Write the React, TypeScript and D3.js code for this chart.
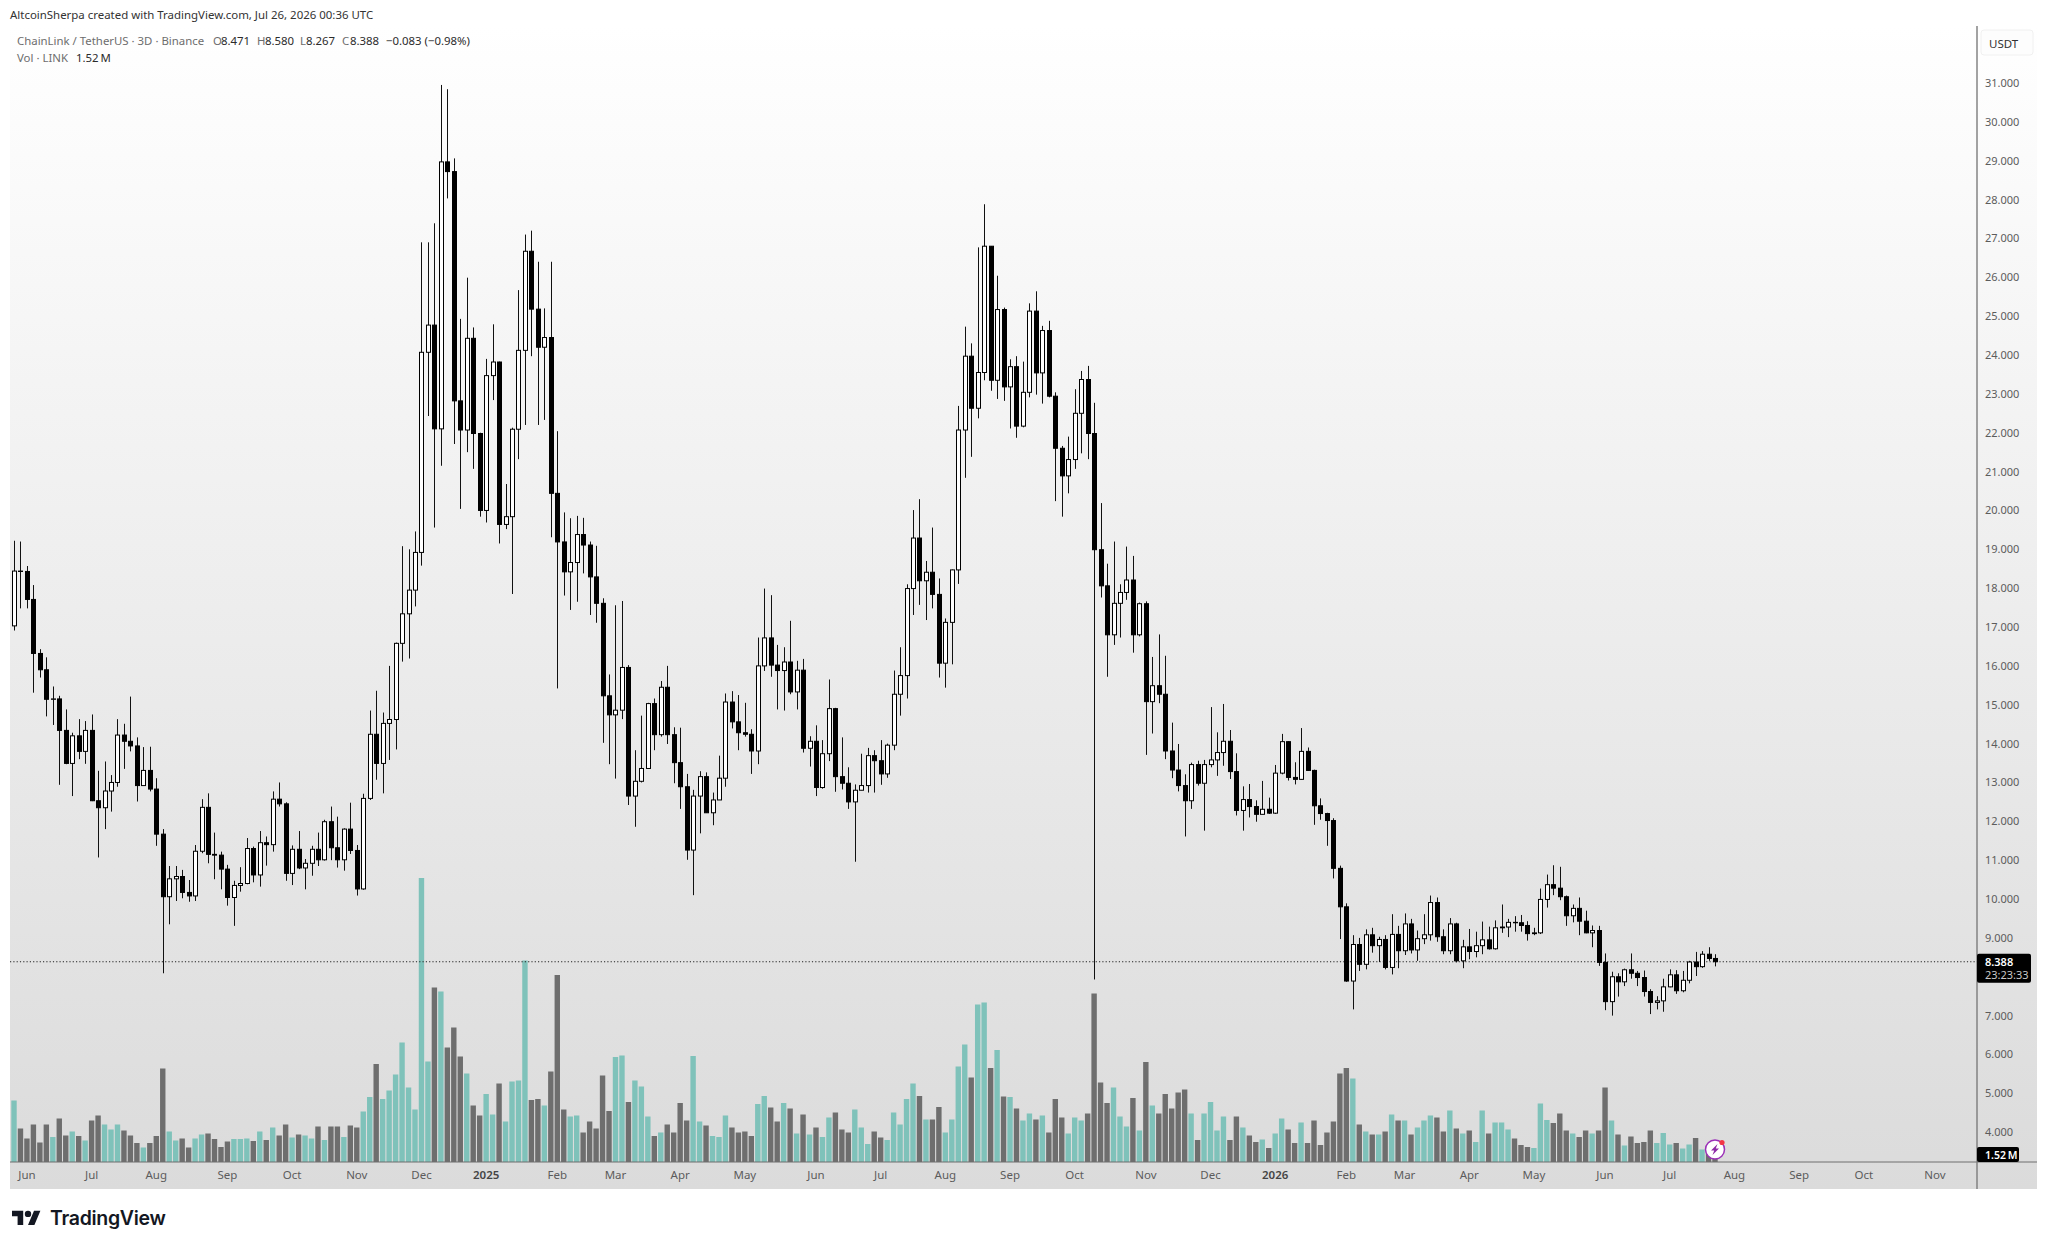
import { useEffect, useRef } from "react";
import * as d3 from "d3";

const width = 2047;
const height = 1248;

const firstOpen = 17.03;
const closes = [
  18.44, 18.43, 17.71, 16.32, 15.9, 15.14, 15.15, 14.34, 13.49, 14.2, 13.8, 14.34, 12.53, 12.35, 12.78, 13.0,
  14.22, 14.06, 13.94, 12.92, 13.31, 12.83, 11.67, 10.06, 10.52, 10.58, 10.17, 10.08, 11.23, 12.36, 11.15, 11.13,
  10.77, 10.04, 10.35, 10.4, 11.3, 10.62, 11.45, 11.4, 12.57, 12.45, 10.66, 11.28, 10.8, 10.92, 11.28, 11.01,
  11.99, 11.32, 11.01, 11.8, 11.25, 10.26, 12.59, 14.24, 13.49, 14.52, 14.62, 16.58, 17.34, 17.95, 18.92, 24.07,
  24.77, 22.1, 28.97, 28.72, 22.82, 22.07, 24.43, 21.98, 20.0, 23.47, 23.82, 19.64, 19.84, 22.09, 24.12, 26.67,
  25.18, 24.2, 24.45, 20.44, 19.19, 18.42, 18.66, 19.38, 19.11, 18.29, 17.61, 15.23, 14.74, 14.86, 15.96, 12.65,
  13.03, 13.36, 15.03, 14.23, 15.45, 14.23, 13.51, 12.89, 11.26, 12.65, 13.15, 12.22, 12.55, 13.11, 15.07, 14.56,
  14.28, 14.24, 13.81, 16.0, 16.72, 16.02, 15.88, 16.1, 15.33, 15.89, 13.88, 14.06, 12.87, 13.74, 14.9, 13.15,
  12.98, 12.5, 12.8, 12.92, 13.69, 13.56, 13.22, 13.96, 15.27, 15.75, 17.99, 19.29, 18.19, 18.41, 17.84, 16.07,
  17.12, 18.47, 22.07, 23.97, 22.63, 23.55, 26.8, 23.35, 25.17, 23.18, 23.7, 22.17, 23.04, 25.13, 23.54, 24.63,
  22.94, 21.6, 20.89, 21.31, 22.5, 23.37, 21.98, 18.99, 18.06, 16.8, 17.61, 17.89, 18.21, 16.8, 17.6, 15.08,
  15.49, 15.27, 13.81, 13.32, 12.92, 12.53, 13.46, 12.98, 13.46, 13.58, 13.77, 14.06, 13.28, 12.28, 12.56, 12.38,
  12.18, 12.31, 12.21, 13.24, 14.05, 13.13, 13.08, 13.8, 13.31, 12.4, 12.2, 12.02, 10.79, 9.8, 7.89, 8.83,
  8.32, 9.08, 8.8, 8.96, 8.24, 9.09, 8.67, 9.36, 8.69, 8.98, 9.08, 9.91, 9.03, 8.67, 9.36, 8.41,
  8.77, 8.65, 8.8, 8.95, 8.72, 9.26, 9.28, 9.4, 9.39, 9.32, 9.11, 9.13, 9.99, 10.37, 10.28, 10.06,
  9.57, 9.76, 9.43, 9.13, 9.19, 8.37, 7.36, 8.0, 7.87, 8.18, 8.09, 7.98, 7.62, 7.34, 7.38, 7.74,
  8.05, 7.64, 7.91, 8.38, 8.26, 8.58, 8.471, 8.388,
];
const highs = [
  19.22, 19.2, 18.57, 18.08, 16.43, 16.22, 15.47, 15.23, 14.88, 14.28, 14.63, 14.58, 14.75, 13.3, 13.54, 13.19,
  14.63, 14.51, 15.21, 14.16, 13.91, 13.92, 13.11, 11.8, 10.85, 10.85, 10.75, 10.49, 11.39, 12.57, 12.72, 11.71,
  11.22, 10.88, 10.47, 10.82, 11.57, 11.35, 11.75, 11.61, 12.77, 13.0, 12.49, 11.38, 11.75, 11.03, 11.37, 11.71,
  12.04, 12.38, 12.12, 11.82, 12.48, 11.39, 12.71, 14.85, 15.36, 14.8, 16.0, 16.6, 19.08, 19.0, 19.46, 26.9,
  26.9, 27.39, 30.95, 30.84, 29.06, 24.93, 25.99, 24.71, 22.0, 23.9, 24.79, 23.83, 20.68, 22.13, 25.67, 27.1,
  27.2, 26.4, 25.2, 26.4, 22.04, 19.95, 19.8, 19.86, 19.81, 19.2, 19.09, 17.74, 15.78, 17.56, 17.67, 16.02,
  13.83, 14.72, 15.05, 15.16, 15.61, 16.0, 14.42, 14.41, 13.22, 12.81, 13.29, 13.26, 12.74, 13.69, 15.29, 15.35,
  15.25, 15.05, 14.37, 16.73, 17.99, 17.82, 16.54, 16.48, 17.16, 16.13, 16.18, 14.19, 14.47, 14.09, 15.65, 14.92,
  14.16, 13.39, 12.95, 13.74, 13.89, 13.83, 14.09, 14.0, 15.88, 16.48, 18.1, 20.01, 20.29, 18.7, 19.56, 18.25,
  17.22, 18.48, 22.69, 24.73, 24.3, 26.77, 27.88, 26.8, 26.04, 25.22, 23.89, 23.97, 23.83, 25.33, 25.64, 24.75,
  24.88, 23.04, 21.66, 21.9, 23.12, 23.59, 23.72, 22.77, 20.19, 18.63, 19.2, 18.1, 19.07, 18.83, 17.63, 17.66,
  16.23, 16.81, 16.26, 14.54, 13.99, 13.21, 13.51, 13.56, 13.58, 14.94, 14.29, 15.02, 14.35, 13.75, 12.9, 12.96,
  12.54, 13.04, 12.61, 13.45, 14.25, 14.06, 13.52, 14.4, 13.9, 13.33, 12.59, 12.22, 12.08, 10.86, 9.89, 9.07,
  9.0, 9.22, 9.26, 9.03, 9.07, 9.61, 9.31, 9.63, 9.49, 9.19, 9.61, 10.09, 10.04, 9.22, 9.51, 9.39,
  8.95, 9.23, 9.16, 9.42, 9.29, 9.45, 9.86, 9.49, 9.56, 9.59, 9.43, 9.26, 10.27, 10.63, 10.87, 10.83,
  10.09, 9.86, 10.04, 9.7, 9.32, 9.31, 8.6, 8.13, 8.09, 8.21, 8.6, 8.15, 8.16, 7.68, 7.5, 7.95,
  8.19, 8.17, 8.15, 8.41, 8.64, 8.66, 8.76, 8.58,
];
const lows = [
  16.91, 17.48, 17.48, 15.31, 15.7, 14.7, 14.48, 12.94, 13.47, 12.65, 13.6, 13.48, 12.52, 11.07, 11.8, 12.25,
  12.89, 13.35, 13.8, 12.51, 12.92, 12.77, 11.37, 8.09, 9.35, 9.95, 10.02, 9.93, 9.95, 11.18, 10.92, 10.51,
  10.25, 9.83, 9.31, 10.19, 10.38, 10.43, 10.32, 10.86, 11.22, 12.38, 10.47, 10.36, 10.77, 10.25, 10.6, 10.85,
  10.99, 11.0, 10.81, 10.73, 11.16, 10.09, 10.24, 12.55, 13.07, 12.72, 13.58, 13.85, 16.11, 16.19, 17.53, 18.58,
  22.43, 19.56, 21.15, 28.03, 21.71, 20.04, 21.5, 21.07, 19.84, 19.69, 22.84, 19.15, 19.52, 17.85, 21.32, 22.2,
  23.97, 22.2, 22.33, 19.31, 15.42, 17.81, 17.44, 17.65, 18.38, 17.31, 17.11, 14.02, 13.47, 13.1, 14.63, 12.42,
  11.86, 13.0, 13.35, 13.83, 14.18, 13.99, 12.98, 12.32, 11.01, 10.1, 11.69, 12.22, 11.9, 12.55, 12.89, 14.39,
  13.83, 14.18, 13.22, 13.47, 15.87, 15.72, 14.88, 14.85, 15.27, 14.88, 13.77, 13.41, 12.65, 12.84, 13.55, 12.76,
  12.82, 12.32, 10.96, 12.8, 12.74, 12.74, 12.94, 13.12, 13.83, 14.72, 15.16, 17.31, 17.57, 17.18, 17.48, 15.7,
  15.44, 16.04, 18.11, 20.84, 21.38, 22.37, 23.35, 23.08, 22.87, 22.82, 22.11, 21.87, 22.14, 22.91, 22.98, 22.75,
  22.91, 20.24, 19.84, 20.44, 21.07, 21.47, 21.32, 7.93, 17.76, 15.72, 16.54, 16.73, 17.7, 16.34, 16.76, 13.71,
  14.26, 15.04, 13.6, 13.11, 12.77, 11.61, 12.32, 12.92, 11.76, 13.39, 13.17, 13.43, 13.09, 12.15, 11.76, 12.1,
  11.99, 12.18, 12.19, 12.19, 13.21, 13.05, 12.95, 13.07, 13.3, 11.91, 12.04, 11.37, 10.53, 8.97, 7.87, 7.16,
  8.15, 8.19, 8.62, 8.38, 8.19, 8.06, 8.22, 8.56, 8.6, 8.41, 8.84, 8.93, 8.9, 8.58, 8.58, 8.37,
  8.22, 8.45, 8.5, 8.58, 8.7, 8.7, 9.13, 9.02, 9.16, 9.16, 8.93, 9.07, 9.1, 9.78, 10.1, 9.97,
  9.31, 9.4, 9.07, 9.12, 8.76, 8.28, 7.14, 7.0, 7.49, 7.76, 7.95, 7.76, 7.49, 7.04, 7.16, 7.1,
  7.73, 7.56, 7.6, 7.83, 8.02, 8.23, 8.41, 8.267,
];
// volume in millions of LINK
const volumes = [
  12.3, 6.7, 4.7, 7.5, 3.9, 7.5, 5.0, 8.7, 5.3, 6.1, 5.2, 4.3, 8.3, 9.3, 7.5, 6.5,
  7.5, 6.3, 5.3, 3.8, 2.9, 3.8, 5.2, 18.7, 6.1, 4.3, 4.7, 2.9, 4.7, 5.5, 5.7, 4.6,
  3.0, 4.1, 4.6, 4.6, 4.7, 4.2, 6.1, 4.4, 6.9, 5.3, 7.5, 4.9, 5.5, 5.3, 4.7, 7.1,
  4.4, 7.1, 7.1, 5.0, 7.3, 6.9, 10.1, 13.0, 19.6, 12.6, 14.3, 17.5, 23.9, 14.9, 10.5, 56.8,
  20.1, 34.9, 34.1, 22.9, 26.9, 21.1, 17.7, 11.3, 9.3, 13.6, 9.5, 15.7, 8.1, 16.1, 16.3, 40.3,
  12.4, 12.6, 11.3, 18.1, 37.4, 10.5, 9.1, 9.3, 5.9, 8.1, 6.7, 17.3, 10.2, 21.0, 21.3, 12.0,
  16.3, 15.1, 9.1, 5.2, 5.9, 7.5, 5.9, 11.8, 8.3, 21.2, 8.1, 7.3, 5.2, 5.0, 9.3, 6.9,
  5.9, 6.1, 5.2, 11.6, 13.2, 10.9, 8.1, 11.8, 10.7, 5.7, 9.5, 5.5, 6.9, 5.0, 8.9, 9.9,
  6.5, 5.9, 10.5, 6.9, 3.6, 6.1, 4.9, 4.4, 9.9, 7.5, 12.6, 15.7, 13.2, 8.5, 8.5, 11.0,
  5.9, 8.5, 19.1, 23.5, 16.9, 31.5, 31.9, 18.8, 22.4, 13.1, 13.0, 10.7, 8.3, 9.7, 8.5, 9.3,
  5.9, 12.6, 8.9, 5.7, 8.9, 8.3, 9.7, 33.7, 15.9, 11.8, 14.9, 9.1, 7.1, 12.8, 6.3, 20.0,
  11.3, 9.7, 13.6, 10.7, 13.9, 14.5, 9.7, 4.4, 9.7, 12.0, 6.3, 9.1, 4.4, 9.1, 6.9, 5.3,
  4.0, 4.5, 2.8, 5.7, 8.7, 6.5, 3.8, 7.9, 3.8, 8.3, 3.4, 5.9, 8.1, 17.7, 18.8, 16.7,
  7.5, 6.1, 5.5, 5.5, 6.1, 9.5, 8.3, 8.3, 5.5, 6.9, 8.3, 9.3, 8.9, 6.1, 10.3, 6.7,
  5.7, 6.3, 4.0, 10.3, 5.7, 7.9, 7.9, 6.5, 4.7, 3.4, 3.0, 2.8, 11.7, 8.4, 7.8, 9.7,
  6.3, 5.7, 5.0, 6.3, 5.7, 6.3, 14.9, 8.3, 5.5, 3.3, 5.1, 3.8, 4.0, 6.3, 3.8, 5.8,
  3.5, 3.8, 2.7, 3.5, 4.8, 2.5, 1.7, 1.52,
];
const opens = [firstOpen, ...closes.slice(0, -1)];

// 8.000 sits under the last price tag, so the axis does not print it
const priceTicks = [4, 5, 6, 7, 9, 10, 11, 12, 13, 14, 15, 16, 17, 18, 19, 20, 21, 22, 23, 24, 25, 26, 27, 28, 29, 30, 31];
const timeTickBars = [2, 12, 22, 33, 43, 53, 63, 73, 84, 93, 103, 113, 124, 134, 144, 154, 164, 175, 185, 195, 206, 215, 225, 235, 246, 256, 266, 276, 286, 297];
const timeTickLabels = ["Jun", "Jul", "Aug", "Sep", "Oct", "Nov", "Dec", "2025", "Feb", "Mar", "Apr", "May", "Jun", "Jul", "Aug", "Sep", "Oct", "Nov", "Dec", "2026", "Feb", "Mar", "Apr", "May", "Jun", "Jul", "Aug", "Sep", "Oct", "Nov"];
const lastPrice = 8.388;
const lastVolume = 1.52;

const uiFont = "'Noto Sans', sans-serif";
const axisColor = "#6f6f6f";
const tealBar = "#7fc2ba";
const grayBar = "#6e6e6e";

export default function App() {
  const ref = useRef<SVGSVGElement>(null);

  useEffect(() => {
    if (!ref.current) return;
    const svg = d3.select(ref.current);
    svg.selectAll("*").remove();

    const left = 10, right = 2037, top = 26, bottom = 1189, axisX = 1977, timeY = 1162;

    const x = d3.scaleLinear().domain([0, 263]).range([14, 1715]);
    const y = d3.scaleLinear().domain([4, 31]).range([1132.2, 83]);
    const yVol = d3.scaleLinear().domain([0, 56.8]).range([timeY, timeY - 284]);

    const grad = svg.append("defs").append("linearGradient")
      .attr("id", "bg").attr("x1", "0%").attr("x2", "0%").attr("y1", "0%").attr("y2", "100%");
    grad.append("stop").attr("offset", "0%").attr("stop-color", "#ffffff");
    grad.append("stop").attr("offset", "100%").attr("stop-color", "#dbdbdb");

    svg.append("rect").attr("width", width).attr("height", height).attr("fill", "#fff");
    svg.append("rect")
      .attr("x", left).attr("y", top).attr("width", right - left).attr("height", bottom - top)
      .attr("fill", "url(#bg)");

    // volume
    svg.append("g").selectAll("rect")
      .data(volumes)
      .enter().append("rect")
      .attr("x", (_, i) => x(i) - 2.7)
      .attr("width", 5.4)
      .attr("y", (d) => yVol(d))
      .attr("height", (d) => timeY - yVol(d))
      .attr("fill", (_, i) => (closes[i] >= opens[i] ? tealBar : grayBar));

    // last price line
    svg.append("line")
      .attr("x1", left).attr("x2", axisX)
      .attr("y1", y(lastPrice)).attr("y2", y(lastPrice))
      .attr("stroke", "#222").attr("stroke-width", 1.1).attr("stroke-dasharray", "1.2 2.1");

    // candles
    const candles = svg.append("g").selectAll("g").data(closes).enter().append("g");
    const cx = (i: number) => Math.round(x(i)) + 0.5;
    candles.append("line")
      .attr("x1", (_, i) => cx(i)).attr("x2", (_, i) => cx(i))
      .attr("y1", (_, i) => y(highs[i])).attr("y2", (_, i) => y(lows[i]))
      .attr("stroke", "#111").attr("stroke-width", 1);
    candles.append("rect")
      .attr("x", (_, i) => cx(i) - 2)
      .attr("width", 4)
      .attr("y", (d, i) => y(Math.max(d, opens[i])))
      .attr("height", (d, i) => Math.max(Math.abs(y(d) - y(opens[i])), 0.4))
      .attr("fill", (d, i) => (d >= opens[i] ? "#fff" : "#000"))
      .attr("stroke", "#000").attr("stroke-width", 1);

    // axis lines
    svg.append("line").attr("x1", left).attr("x2", right).attr("y1", timeY).attr("y2", timeY)
      .attr("stroke", axisColor).attr("stroke-width", 1.2);
    svg.append("line").attr("x1", axisX).attr("x2", axisX).attr("y1", top).attr("y2", bottom)
      .attr("stroke", "#7c7c7c").attr("stroke-width", 1.4);

    // price axis
    svg.append("g").selectAll("text").data(priceTicks).enter().append("text")
      .attr("x", 1985).attr("y", (d) => y(d) + 4)
      .attr("font-family", uiFont).attr("font-size", 11).attr("fill", "#5c5c5c")
      .text((d) => d.toFixed(3));

    // time axis
    svg.append("g").selectAll("text").data(timeTickBars).enter().append("text")
      .attr("x", (d) => x(d)).attr("y", 1179)
      .attr("text-anchor", "middle")
      .attr("font-family", uiFont).attr("font-size", 11.5)
      .attr("font-weight", (_, i) => (/^\d/.test(timeTickLabels[i]) ? 600 : 400))
      .attr("fill", (_, i) => (/^\d/.test(timeTickLabels[i]) ? "#444" : "#5c5c5c"))
      .text((_, i) => timeTickLabels[i]);

    // USDT button
    svg.append("rect").attr("x", 1981).attr("y", 30).attr("width", 52).attr("height", 25).attr("rx", 3)
      .attr("fill", "#fdfdfd").attr("stroke", "#f0f0f0");
    svg.append("text").attr("x", 1989).attr("y", 48)
      .attr("font-family", uiFont).attr("font-size", 11.5).attr("fill", "#333").text("USDT");

    // header
    svg.append("text").attr("x", 10).attr("y", 19)
      .attr("font-family", uiFont).attr("font-size", 11.45).attr("fill", "#333")
      .text("AltcoinSherpa created with TradingView.com, Jul 26, 2026 00:36 UTC");

    // legend
    const legendText = (tx: number, ty: number, s: string, fill: string) =>
      svg.append("text").attr("x", tx).attr("y", ty)
        .attr("font-family", uiFont).attr("font-size", 11.4).attr("fill", fill).text(s);
    const dim = "#6d6d6d", dark = "#2b2b2b";
    legendText(17, 45, "ChainLink / TetherUS · 3D · Binance", dim);
    legendText(213, 45, "O", dim);
    legendText(221, 45, "8.471", dark);
    legendText(257, 45, "H", dim);
    legendText(265, 45, "8.580", dark);
    legendText(300, 45, "L", dim);
    legendText(306, 45, "8.267", dark);
    legendText(342, 45, "C", dim);
    legendText(350, 45, "8.388", dark);
    legendText(386, 45, "−0.083 (−0.98%)", dark);
    legendText(17, 62, "Vol · LINK", dim);
    legendText(76, 62, `${lastVolume}\u2009M`, dark);

    // last price tag
    const tagY = y(lastPrice);
    svg.append("rect").attr("x", axisX).attr("y", tagY - 8).attr("width", 54).attr("height", 29).attr("rx", 2).attr("fill", "#000");
    svg.append("text").attr("x", 1985).attr("y", tagY + 4)
      .attr("font-family", uiFont).attr("font-size", 11).attr("font-weight", 600).attr("fill", "#fff").text(lastPrice.toFixed(3));
    svg.append("text").attr("x", 1985).attr("y", tagY + 17)
      .attr("font-family", uiFont).attr("font-size", 11).attr("fill", "#c8c8c8").text("23:23:33");

    // last volume tag
    svg.append("rect").attr("x", axisX).attr("y", 1147).attr("width", 42).attr("height", 15).attr("rx", 2).attr("fill", "#000");
    svg.append("text").attr("x", 1985).attr("y", 1159)
      .attr("font-family", uiFont).attr("font-size", 10.5).attr("font-weight", 600).attr("fill", "#fff").text(`${lastVolume}\u2009M`);

    // event icon on the last bar
    const icon = svg.append("g").attr("transform", `translate(${x(263)},1149.5)`);
    icon.append("circle").attr("r", 9.5).attr("fill", "#fff").attr("stroke", "#9b30b8").attr("stroke-width", 1.5);
    icon.append("path").attr("d", "M2.5 -5.5L-4 1L-0.8 1L-2.5 5.5L4 -1L0.8 -1Z").attr("fill", "#8e2ba8");
    icon.append("circle").attr("cx", 7).attr("cy", -7).attr("r", 2.6).attr("fill", "#f23645");

    // TradingView logo
    const logo = svg.append("g").attr("transform", "translate(12,1207.5) scale(0.8)").attr("fill", "#131722");
    logo.append("path").attr("d", "M14 22H7V11H0V4h14v18zM28 22h-8l7.5-18h8L28 22z");
    logo.append("circle").attr("cx", 20).attr("cy", 8).attr("r", 4);
    svg.append("text").attr("x", 50).attr("y", 1225)
      .attr("font-family", "Inter, sans-serif").attr("font-size", 19.5).attr("font-weight", 600).attr("fill", "#131722")
      .attr("letter-spacing", -0.3)
      .text("TradingView");
  }, []);

  return (
    <svg
      ref={ref}
      width={width}
      height={height}
      style={{ position: "absolute", left: 0, top: 0, display: "block" }}
    />
  );
}
